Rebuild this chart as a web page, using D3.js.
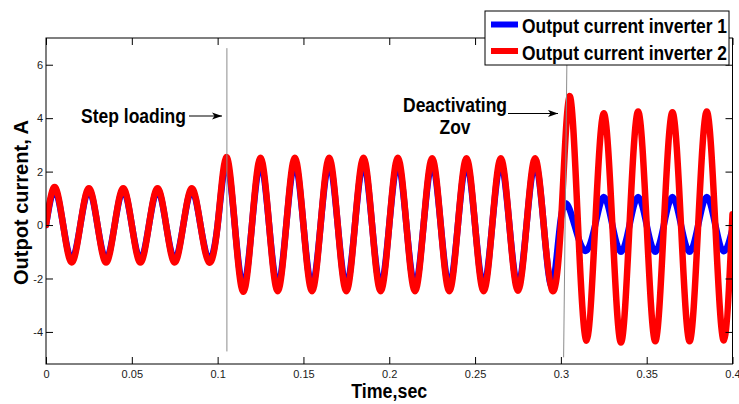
<!DOCTYPE html>
<html>
<head>
<meta charset="utf-8">
<script src="https://cdn.jsdelivr.net/npm/d3@7"></script>
<style>
  body { margin: 0; background: #fff; }
  svg { display: block; }
</style>
</head>
<body>
<script>
// sampling grid: every quarter of a 50 Hz period (0.005 s)
const time = d3.range(0, 0.4 + 1e-9, 0.005);

// output current inverter 1 (blue) at each quarter period
const inverter1 = [
  0, 1.30, 0, -1.28, 0, 1.30, 0, -1.28, 0, 1.30,
  0, -1.28, 0, 1.30, 0, -1.28, 0, 1.30, 0, -1.28,
  0, 2.30, 0, -2.28, 0, 2.30, 0, -2.28, 0, 2.30,
  0, -2.28, 0, 2.30, 0, -2.28, 0, 2.30, 0, -2.28,
  0, 2.30, 0, -2.28, 0, 2.30, 0, -2.28, 0, 2.30,
  0, -2.28, 0, 2.30, 0, -2.28, 0, 2.30, 0, -2.28,
  0.25, 0.60, -0.45, -0.95, 0, 1.05, 0, -1.00, 0, 1.05,
  0, -1.00, 0, 1.05, 0, -1.00, 0, 1.05, 0, -0.98,
  -0.15
];

// output current inverter 2 (red)
const inverter2 = [
  0, 1.42, 0, -1.40, 0, 1.38, 0, -1.40, 0, 1.38,
  0, -1.40, 0, 1.38, 0, -1.40, 0, 1.38, 0, -1.40,
  0, 2.54, 0, -2.50, 0, 2.52, 0, -2.48, 0, 2.52,
  0, -2.48, 0, 2.52, 0, -2.48, 0, 2.52, 0, -2.48,
  0, 2.52, 0, -2.48, 0, 2.50, 0, -2.48, 0, 2.50,
  0, -2.48, 0, 2.50, 0, -2.46, 0, 2.50, 0, -2.46,
  0, 4.82, 0, -4.32, 0, 4.18, 0, -4.40, 0, 4.25,
  0, -4.35, 0, 4.22, 0, -4.35, 0, 4.25, 0, -4.32,
  0.40
];

const seriesNames = ["Output current inverter 1", "Output current inverter 2"];
const seriesColors = ["#0000ff", "#ff0000"];

const xTicks = [0, 0.05, 0.1, 0.15, 0.2, 0.25, 0.3, 0.35, 0.4];
const yTicks = [-4, -2, 0, 2, 4, 6];

// event markers: [time at top, value at top, time at bottom, value at bottom]
const events = [
  [0.1054, 6.62, 0.1054, -4.73],
  [0.3035, 6.06, 0.3016, -4.95]
];

const width = 739;
const height = 404;
const margin = { top: 38, right: 6.5, bottom: 40, left: 46 };
const font = "'Liberation Sans', Arial, sans-serif";

const x = d3.scaleLinear().domain([0, 0.4]).range([margin.left, width - margin.right]);
const y = d3.scaleLinear().domain([-5.2, 7]).range([height - margin.bottom, margin.top]);

const svg = d3.select("body")
  .append("svg")
  .attr("width", width)
  .attr("height", height)
  .attr("viewBox", [0, 0, width, height]);

svg.append("defs")
  .append("clipPath")
  .attr("id", "plot-clip")
  .append("rect")
  .attr("x", margin.left)
  .attr("y", margin.top)
  .attr("width", x(0.4) - margin.left)
  .attr("height", y(-5.2) - margin.top);

svg.select("defs")
  .append("marker")
  .attr("id", "arrow")
  .attr("markerUnits", "userSpaceOnUse")
  .attr("viewBox", "0 -4 10 8")
  .attr("refX", 10)
  .attr("refY", 0)
  .attr("markerWidth", 10)
  .attr("markerHeight", 8)
  .attr("orient", "auto")
  .append("path")
  .attr("d", "M0,-3.6L10,0L0,3.6L2.5,0Z")
  .attr("fill", "black");

// curves
const line = (values) => d3.line()
  .x((d, i) => x(time[i]))
  .y((d) => y(d))
  .curve(d3.curveNatural)(values);

const curves = svg.append("g").attr("clip-path", "url(#plot-clip)");
[inverter1, inverter2].forEach((values, k) => {
  curves.append("path")
    .attr("d", line(values))
    .attr("fill", "none")
    .attr("stroke", seriesColors[k])
    .attr("stroke-width", 6.5)
    .attr("stroke-linejoin", "round")
    .attr("stroke-linecap", "round");
});

// event lines
svg.append("g")
  .selectAll("line")
  .data(events)
  .join("line")
  .attr("x1", (d) => x(d[0]))
  .attr("y1", (d) => y(d[1]))
  .attr("x2", (d) => x(d[2]))
  .attr("y2", (d) => y(d[3]))
  .attr("stroke", "#8c8c8c")
  .attr("stroke-width", 1);

// axes, MATLAB style: ticks pointing inwards on all four sides
const styleAxis = (g) => {
  g.select(".domain").remove();
  g.selectAll(".tick line").attr("stroke", "black");
  g.selectAll(".tick text")
    .attr("fill", "#1a1a1a")
    .attr("font-family", font)
    .attr("font-size", 11);
};

svg.append("g")
  .attr("transform", `translate(0,${y(-5.2)})`)
  .call(d3.axisBottom(x).tickValues(xTicks).tickFormat(d3.format("")).tickSize(-7).tickPadding(6))
  .call(styleAxis);

svg.append("g")
  .attr("transform", `translate(0,${margin.top})`)
  .call(d3.axisTop(x).tickValues(xTicks).tickFormat("").tickSize(-7))
  .call(styleAxis);

svg.append("g")
  .attr("transform", `translate(${margin.left},0)`)
  .call(d3.axisLeft(y).tickValues(yTicks).tickFormat(d3.format("")).tickSize(-7).tickPadding(3))
  .call(styleAxis);

svg.append("g")
  .attr("transform", `translate(${x(0.4)},0)`)
  .call(d3.axisRight(y).tickValues(yTicks).tickFormat("").tickSize(-7))
  .call(styleAxis);

svg.selectAll(".tick text").text(function () {
  return this.textContent.replace("−", "-");
});

svg.append("rect")
  .attr("x", margin.left)
  .attr("y", margin.top)
  .attr("width", x(0.4) - margin.left)
  .attr("height", y(-5.2) - margin.top)
  .attr("fill", "none")
  .attr("stroke", "black")
  .attr("stroke-width", 1);

// axis titles
const boldText = (g, label, len) => g.append("text")
  .attr("font-family", font)
  .attr("font-weight", "bold")
  .attr("font-size", 19.5)
  .attr("fill", "black")
  .attr("textLength", len)
  .attr("lengthAdjust", "spacingAndGlyphs")
  .text(label);

boldText(svg, "Time,sec", 76)
  .attr("x", (margin.left + x(0.4)) / 2 - 38)
  .attr("y", 398);

boldText(svg, "Outpot current, A", 165)
  .attr("transform", "translate(28,285) rotate(-90)");

// annotations
boldText(svg, "Step loading", 105)
  .attr("x", 81)
  .attr("y", 123);

svg.append("line")
  .attr("x1", 189).attr("y1", 116)
  .attr("x2", 222).attr("y2", 116)
  .attr("stroke", "black")
  .attr("stroke-width", 1.2)
  .attr("marker-end", "url(#arrow)");

boldText(svg, "Deactivating", 104)
  .attr("x", 403)
  .attr("y", 112);

boldText(svg, "Zov", 31)
  .attr("x", 439.5)
  .attr("y", 133.5);

svg.append("line")
  .attr("x1", 508).attr("y1", 113.5)
  .attr("x2", 558).attr("y2", 113.5)
  .attr("stroke", "black")
  .attr("stroke-width", 1.2)
  .attr("marker-end", "url(#arrow)");

// legend
const legend = svg.append("g").attr("transform", "translate(485,11)");
legend.append("rect")
  .attr("width", 244)
  .attr("height", 54)
  .attr("fill", "white")
  .attr("stroke", "black")
  .attr("stroke-width", 1);

seriesNames.forEach((name, k) => {
  const row = legend.append("g").attr("transform", `translate(0,${13.5 + k * 26.5})`);
  row.append("line")
    .attr("x1", 6).attr("x2", 33)
    .attr("stroke", seriesColors[k])
    .attr("stroke-width", 6);
  boldText(row, name, 205)
    .attr("x", 37)
    .attr("y", 8.5);
});
</script>
</body>
</html>
